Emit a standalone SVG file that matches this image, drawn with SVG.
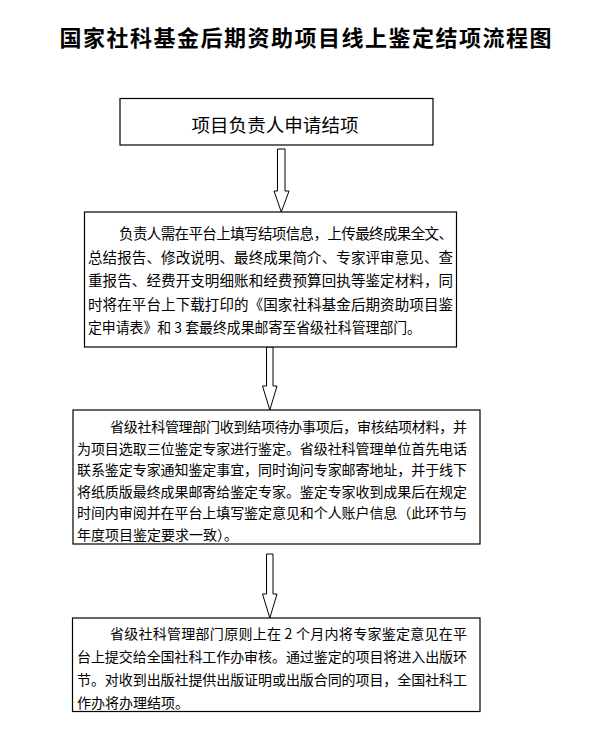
<svg xmlns="http://www.w3.org/2000/svg" width="596" height="743" viewBox="0 0 596 743">
<style>
.box{fill:#fff;stroke:#000;stroke-width:1.2}
.arrow{fill:#fff;stroke:#000;stroke-width:1}
.t{font-family:"Noto Sans CJK SC","Noto Sans",sans-serif;fill:#000}
.title{font-size:22px;font-weight:bold}
.b1{font-size:18.5px}
.b2{font-size:14.5px}
.b3{font-size:14px}
</style>
<rect width="596" height="743" fill="#fff"/>
<text class="t title" x="59.5" y="45.5" textLength="492" lengthAdjust="spacing">国家社科基金后期资助项目线上鉴定结项流程图</text>
<g id="connectors">
<path class="arrow" d="M277.5,149 H285 V191 H289 L281.3,212 L274,191 H277.5 Z"/>
<path class="arrow" d="M266.5,347 H273 V386 H277 L269.8,410 L262.5,386 H266.5 Z"/>
<path class="arrow" d="M266.5,554 H273 V594 H277 L269.8,618 L262.5,594 H266.5 Z"/>
</g>
<g id="node1">
<rect class="box" x="120" y="98.5" width="313" height="46.5"/>
<text class="t b1" x="191.5" y="131.5" textLength="167" lengthAdjust="spacing">项目负责人申请结项</text>
</g>
<g id="node2">
<rect class="box" x="84.5" y="212" width="372" height="135"/>
<text class="t b2" x="119" y="239" textLength="334" lengthAdjust="spacing">负责人需在平台上填写结项信息，上传最终成果全文、</text>
<text class="t b2" x="88" y="262.5" textLength="365" lengthAdjust="spacing">总结报告、修改说明、最终成果简介、专家评审意见、查</text>
<text class="t b2" x="88" y="286" textLength="365" lengthAdjust="spacing">重报告、经费开支明细账和经费预算回执等鉴定材料，同</text>
<text class="t b2" x="88" y="309.5" textLength="365" lengthAdjust="spacing">时将在平台上下载打印的《国家社科基金后期资助项目鉴</text>
<text class="t b2" x="88" y="333" textLength="333" lengthAdjust="spacingAndGlyphs">定申请表》和 3 套最终成果邮寄至省级社科管理部门。</text>
</g>
<g id="node3">
<rect class="box" x="73" y="410" width="407" height="134"/>
<text class="t b3" x="110" y="432" textLength="357" lengthAdjust="spacing">省级社科管理部门收到结项待办事项后，审核结项材料，并</text>
<text class="t b3" x="77" y="453.5" textLength="390" lengthAdjust="spacing">为项目选取三位鉴定专家进行鉴定。省级社科管理单位首先电话</text>
<text class="t b3" x="77" y="475" textLength="390" lengthAdjust="spacing">联系鉴定专家通知鉴定事宜，同时询问专家邮寄地址，并于线下</text>
<text class="t b3" x="77" y="496.5" textLength="390" lengthAdjust="spacing">将纸质版最终成果邮寄给鉴定专家。鉴定专家收到成果后在规定</text>
<text class="t b3" x="77" y="518" textLength="390" lengthAdjust="spacing">时间内审阅并在平台上填写鉴定意见和个人账户信息（此环节与</text>
<text class="t b3" x="77" y="539.5">年度项目鉴定要求一致）。</text>
</g>
<g id="node4">
<rect class="box" x="72.5" y="618" width="407.5" height="93.5"/>
<text class="t b3" x="110" y="638.5" textLength="357" lengthAdjust="spacing">省级社科管理部门原则上在 2 个月内将专家鉴定意见在平</text>
<text class="t b3" x="77" y="661.5" textLength="390" lengthAdjust="spacing">台上提交给全国社科工作办审核。通过鉴定的项目将进入出版环</text>
<text class="t b3" x="77" y="684.5" textLength="390" lengthAdjust="spacing">节。对收到出版社提供出版证明或出版合同的项目，全国社科工</text>
<text class="t b3" x="77" y="707.5">作办将办理结项。</text>
</g>
</svg>
